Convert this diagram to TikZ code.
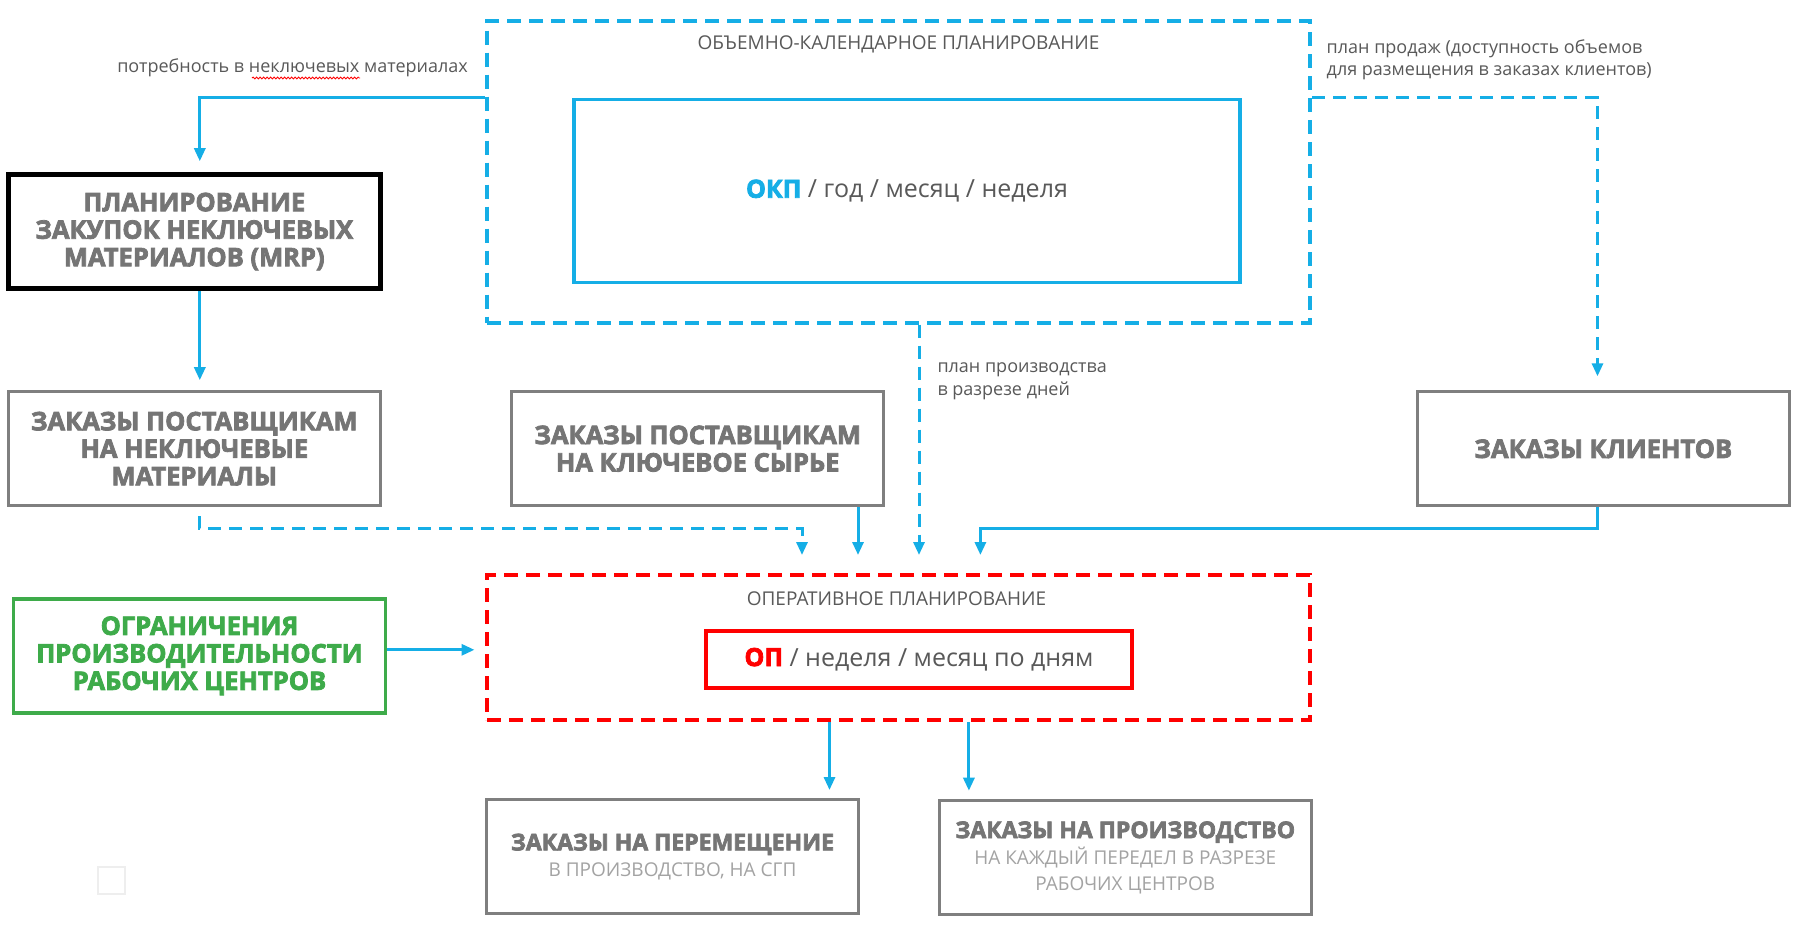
\documentclass[tikz,border=0pt]{standalone}
\usepackage{fontspec}
\setmainfont{Open Sans}
\newfontfamily\hv{Open Sans}[BoldFeatures={FakeBold=3}]
\newfontfamily\lt{Open Sans}
\usetikzlibrary{arrows.meta,decorations.pathmorphing}
\definecolor{cblue}{HTML}{15AEE6}
\definecolor{boxgray}{HTML}{7F7F7F}
\definecolor{txtgray}{HTML}{757575}
\definecolor{subgray}{HTML}{A3A3A3}
\definecolor{lblgray}{HTML}{595959}
\definecolor{cgreen}{HTML}{3EAB4A}
\definecolor{cred}{HTML}{FF0000}
\definecolor{faint}{HTML}{EEEEEE}
\newcommand\subtx{\lt\mdseries\fontsize{19}{26.6}\selectfont\color{subgray}}
\begin{document}
\begin{tikzpicture}[x=1pt,y=-1pt,
  arr/.style={draw=cblue,line width=3pt,-{Triangle[length=13pt,width=11pt]}},
  darr/.style={arr,dash pattern=on 13pt off 8pt},
  boldtxt/.style={font=\hv\bfseries\fontsize{25.5}{27.5}\selectfont},
  gbox/.style={boldtxt,draw=boxgray,line width=3pt,text=txtgray,align=center,
    minimum width=372pt,minimum height=114pt,inner sep=0pt},
  obox/.style={gbox,font=\hv\bfseries\fontsize{23}{27}\selectfont},
  lbl/.style={font=\lt\fontsize{18}{22.7}\selectfont,text=lblgray,inner sep=0pt},
  ttl/.style={font=\lt\fontsize{19}{22}\selectfont,text=lblgray,inner sep=0pt},
  bigtxt/.style={font=\lt\fontsize{25}{28}\selectfont,text=lblgray}
]
\useasboundingbox[fill=white] (0,0) rectangle (1800,925);

% top dashed block
\node[draw=cblue,line width=4pt,dash pattern=on 14pt off 8pt,minimum width=823pt,minimum height=302pt] (okc) at (898.5,171.7) {};
\node[ttl] (okct) at (898.5,44) {ОБЪЕМНО-КАЛЕНДАРНОЕ ПЛАНИРОВАНИЕ};
\node[bigtxt,draw=cblue,line width=3.5pt,minimum width=666pt,minimum height=183.4pt] (okp) at (907,191)
  {{\hv\bfseries\color{cblue}ОКП} / год / месяц / неделя};

% left column
\node[gbox,draw=black,line width=4.5pt] (mrp) at (194.3,231.5) {ПЛАНИРОВАНИЕ\\ЗАКУПОК НЕКЛЮЧЕВЫХ\\МАТЕРИАЛОВ (MRP)};
\node[gbox] (nk) at (194.3,448.7) {ЗАКАЗЫ ПОСТАВЩИКАМ\\НА НЕКЛЮЧЕВЫЕ\\МАТЕРИАЛЫ};
\node[gbox] (kl) at (697.7,448.7) {ЗАКАЗЫ ПОСТАВЩИКАМ\\НА КЛЮЧЕВОЕ СЫРЬЕ};
\node[gbox] (cl) at (1603.3,448.8) {ЗАКАЗЫ КЛИЕНТОВ};
\node[gbox,draw=cgreen,text=cgreen,line width=3.5pt] (gr) at (199.5,655.8) {ОГРАНИЧЕНИЯ\\ПРОИЗВОДИТЕЛЬНОСТИ\\РАБОЧИХ ЦЕНТРОВ};

% operative block
\node[draw=cred,line width=4pt,dash pattern=on 14pt off 8pt,minimum width=823pt,minimum height=145pt] (op) at (898.5,647.5) {};
\node[ttl] (opt) at (896.5,598.3) {ОПЕРАТИВНОЕ ПЛАНИРОВАНИЕ};
\node[bigtxt,draw=cred,line width=4pt,minimum width=426pt,minimum height=56.7pt] (opi) at (919,659.3)
  {{\hv\bfseries\color{cred}ОП} / неделя / месяц по дням};

% bottom boxes
\node[obox] (pm) at (672.5,856.8) {ЗАКАЗЫ НА ПЕРЕМЕЩЕНИЕ\\[-1pt]{\subtx В ПРОИЗВОДСТВО, НА СГП}};
\node[obox] (pr) at (1125.3,857.5) {ЗАКАЗЫ НА ПРОИЗВОДСТВО\\[-1pt]{\subtx НА КАЖДЫЙ ПЕРЕДЕЛ В РАЗРЕЗЕ}\\[-1pt]{\subtx РАБОЧИХ ЦЕНТРОВ}};

% labels
\node[lbl,anchor=east] (l1) at (468,68) {потребность в неключевых материалах};
\node[lbl,anchor=west,align=left] (l2) at (1326.5,59.7) {план продаж (доступность объемов\\для размещения в заказах клиентов)};
\node[lbl,anchor=west,align=left] (l3) at (937.3,381.3) {план производства\\в разрезе дней};
\draw[cred,line width=0.8pt,decorate,decoration={snake,amplitude=1pt,segment length=3.5pt}] (252,78) -- (360,78);

% faint square
\draw[faint,line width=2pt] (98,867) rectangle (125,894);

% connectors
\draw[arr,shorten >=11pt] (okc.west |- okp.north) -| ([xshift=5.5pt]mrp.north);
\draw[arr,shorten >=10pt] ([xshift=5.5pt]mrp.south) -- ([xshift=5.5pt]nk.north);
\draw[darr,shorten >=14pt] (okc.east |- okp.north) -| ([xshift=-5.8pt]cl.north);
\draw[darr,shorten >=18pt] ([xshift=20.5pt]okc.south) -- ([xshift=20.5pt]op.north);
\draw[darr,shorten <=9pt,shorten >=18pt] ([xshift=5pt]nk.south) -- ++(0,21) -| ([xshift=-96.5pt]op.north);
\draw[arr,shorten >=18pt] ([xshift=160.3pt]kl.south) -- ([xshift=-40.5pt]op.north);
\draw[arr,shorten >=18pt] ([xshift=-5.8pt]cl.south) -- ++(0,21) -| ([xshift=81.9pt]op.north);
\draw[arr,shorten >=10.5pt] ([yshift=6pt]gr.east) -- ([yshift=6pt]gr.east -| op.west);
\draw[arr,shorten >=8.3pt] ([xshift=-69pt]op.south) -- ([xshift=-69pt]op.south |- pm.north);
\draw[arr,shorten >=8.3pt] ([xshift=70.4pt]op.south) -- ([xshift=70.4pt]op.south |- pr.north);
\end{tikzpicture}
\end{document}
